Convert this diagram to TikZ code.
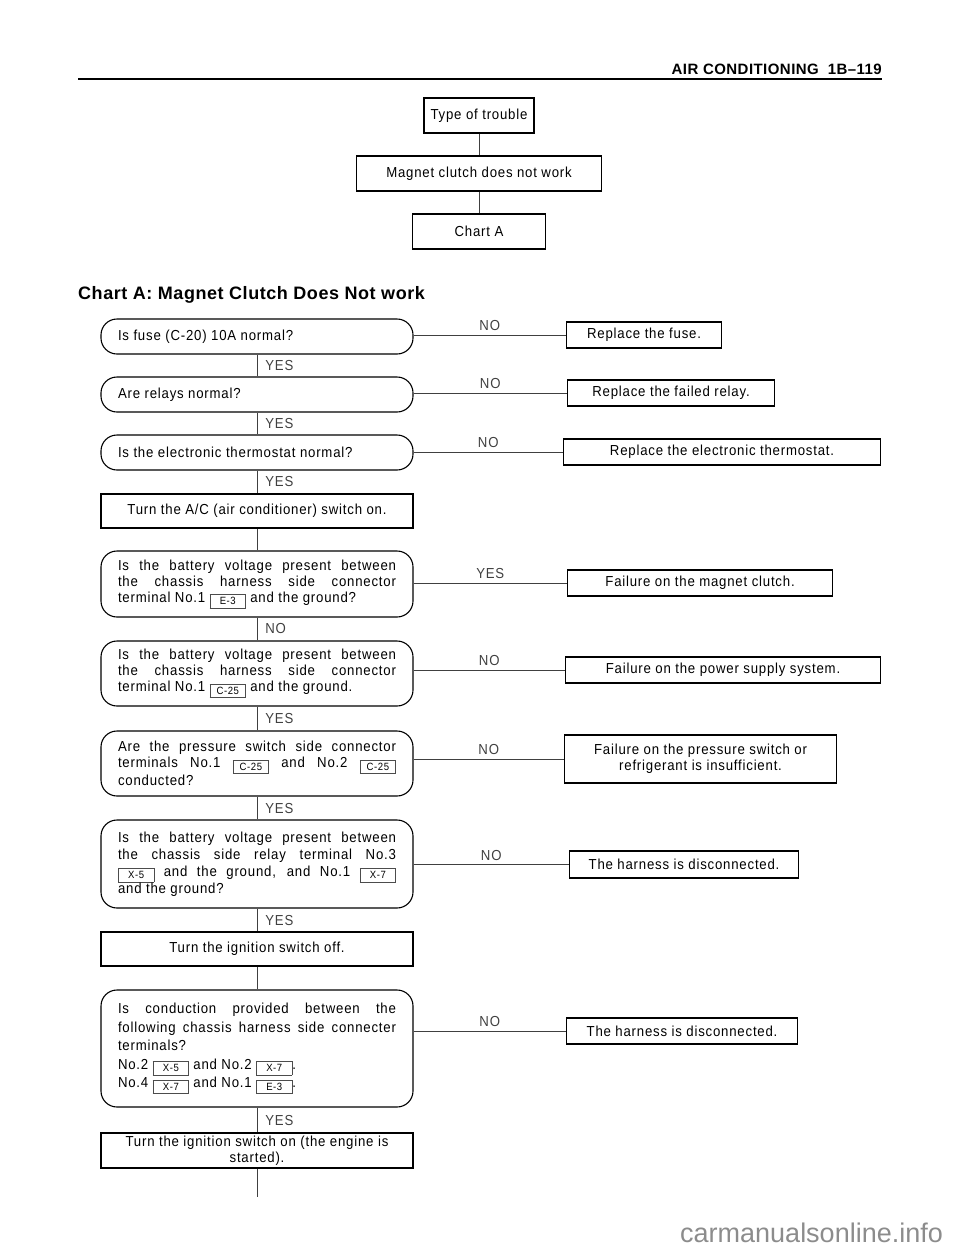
\documentclass[tikz,border=0pt]{standalone}
\usepackage{fontspec}
\setmainfont{Liberation Sans}[FakeStretch=0.91,LetterSpace=5.5]
\newfontfamily\headfont{Liberation Sans}[LetterSpace=3]
\newfontfamily\markfont{Liberation Sans}
\newcommand{\plug}[1]{\raisebox{-2.5pt}{\color{black!70}\fboxsep=0pt\fboxrule=0.6pt\fbox{\makebox[35pt]{\color{black}\rule[-3pt]{0pt}{13pt}\fontsize{10.5}{10.5}\selectfont #1}}}}
\hbadness=10000

\begin{document}
\begin{tikzpicture}[x=1pt, y=-1pt,
    question/.style={draw, line width=1.1pt, rounded corners=16pt, text width=278pt, inner xsep=17pt, inner ysep=2pt, align=justify, font=\fontsize{14.5}{16}\selectfont},
    stepbox/.style={draw, line width=1.1pt, minimum width=312pt, minimum height=34pt, inner sep=2pt, align=center, font=\fontsize{14.5}{16}\selectfont},
    result/.style={draw, line width=1.1pt, anchor=west, minimum height=26pt, inner sep=2pt, align=center, font=\fontsize{14.5}{16}\selectfont},
    link/.style={line width=0.7pt, black!75},
    answer/.style={inner sep=0pt, font=\fontsize{14.5}{16}\selectfont}]
   \useasboundingbox (0,0) rectangle (960,1250);

   \node[anchor=base east, inner sep=0pt, font=\headfont\bfseries\fontsize{15}{18}\selectfont] (header) at (882,74.5) {AIR CONDITIONING\hspace{0.6em}1B–119};
   \draw[line width=2pt] (78,79) -- (882,79);

   \node[result, anchor=center, minimum width=110pt, minimum height=35pt] (trouble) at (479,115.5) {Type of trouble};
   \node[result, anchor=center, minimum width=245pt, minimum height=35pt] (symptom) at (479,173.5) {Magnet clutch does not work};
   \node[result, anchor=center, minimum width=133pt, minimum height=35pt] (chart) at (479,231.5) {Chart A};

   \node[anchor=base west, inner sep=0pt, font=\headfont\bfseries\fontsize{18}{22}\selectfont] (title) at (78,299) {Chart A: Magnet Clutch Does Not work};

   \node[question, minimum height=35pt] (q1) at (257,336.5) {Is fuse (C-20) 10A normal?};
   \node[question, minimum height=35pt] (q2) at (257,394.5) {Are relays normal?};
   \node[question, minimum height=35pt] (q3) at (257,452.5) {Is the electronic thermostat normal?};
   \node[stepbox] (a1) at (257,511) {Turn the A/C (air conditioner) switch on.};
   \node[question, minimum height=66pt] (q4) at (257,584) {Is the battery voltage present between\linebreak the chassis harness side connector\linebreak terminal No.1 \plug{E-3} and the ground?};
   \node[question, minimum height=65pt] (q5) at (257,673.5) {Is the battery voltage present between\linebreak the chassis harness side connector\linebreak terminal No.1 \plug{C-25} and the ground.};
   \node[question, minimum height=65pt] (q6) at (257,763.5) {Are the pressure switch side connector\linebreak terminals No.1 \plug{C-25} and No.2 \plug{C-25}\linebreak conducted?};
   \node[question, minimum height=88pt, font=\fontsize{14.5}{17}\selectfont] (q7) at (257,864) {Is the battery voltage present between\linebreak the chassis side relay terminal No.3\linebreak \plug{X-5} and the ground, and No.1 \plug{X-7}\linebreak and the ground?};
   \node[stepbox] (a2) at (257,949) {Turn the ignition switch off.};
   \node[question, minimum height=117pt, font=\fontsize{14.5}{18.5}\selectfont] (q8) at (257,1048.5) {Is conduction provided between the\linebreak following chassis harness side connecter\linebreak terminals?\newline No.2 \plug{X-5} and No.2 \plug{X-7}.\newline No.4 \plug{X-7} and No.1 \plug{E-3}.};
   \node[stepbox, minimum height=35pt] (a3) at (257,1150.5) {Turn the ignition switch on (the engine is\\ started).};
   \coordinate (finish) at (257,1197);

   \node[result, minimum width=155pt] (r1) at (566,335) {Replace the fuse.};
   \node[result, minimum width=207pt] (r2) at (567,393) {Replace the failed relay.};
   \node[result, minimum width=317pt] (r3) at (563,452) {Replace the electronic thermostat.};
   \node[result, minimum width=265pt] (r4) at (567,583) {Failure on the magnet clutch.};
   \node[result, minimum width=315pt] (r5) at (565,670) {Failure on the power supply system.};
   \node[result, minimum width=272pt, minimum height=48pt] (r6) at (564,759) {Failure on the pressure switch or\\ refrigerant is insufficient.};
   \node[result, minimum width=229pt, minimum height=27pt] (r7) at (569,864.5) {The harness is disconnected.};
   \node[result, minimum width=231pt] (r8) at (566,1031) {The harness is disconnected.};

   \draw[link] (trouble) -- (symptom);
   \draw[link] (symptom) -- (chart);

   \draw[link] (q1) -- node[answer, right, xshift=8pt] {YES} (q2);
   \draw[link] (q2) -- node[answer, right, xshift=8pt] {YES} (q3);
   \draw[link] (q3) -- node[answer, right, xshift=8pt] {YES} (a1);
   \draw[link] (a1) -- (q4);
   \draw[link] (q4) -- node[answer, right, xshift=8pt] {NO} (q5);
   \draw[link] (q5) -- node[answer, right, xshift=8pt] {YES} (q6);
   \draw[link] (q6) -- node[answer, right, xshift=8pt] {YES} (q7);
   \draw[link] (q7) -- node[answer, right, xshift=8pt] {YES} (a2);
   \draw[link] (a2) -- (q8);
   \draw[link] (q8) -- node[answer, right, xshift=8pt] {YES} (a3);
   \draw[link] (a3) -- (finish);

   \draw[link] (q1.east |- r1.west) -- node[answer, above=4pt] {NO} (r1.west);
   \draw[link] (q2.east |- r2.west) -- node[answer, above=4pt] {NO} (r2.west);
   \draw[link] (q3.east |- r3.west) -- node[answer, above=4pt] {NO} (r3.west);
   \draw[link] (q4.east |- r4.west) -- node[answer, above=4pt] {YES} (r4.west);
   \draw[link] (q5.east |- r5.west) -- node[answer, above=4pt] {NO} (r5.west);
   \draw[link] (q6.east |- r6.west) -- node[answer, above=4pt] {NO} (r6.west);
   \draw[link] (q7.east |- r7.west) -- node[answer, above=4pt] {NO} (r7.west);
   \draw[link] (q8.east |- r8.west) -- node[answer, above=4pt] {NO} (r8.west);

   \node[anchor=base west, inner sep=0pt, text=black!45, font=\markfont\fontsize{27}{30}\selectfont] (mark) at (680,1242) {carmanualsonline.info};
\end{tikzpicture}
\end{document}
